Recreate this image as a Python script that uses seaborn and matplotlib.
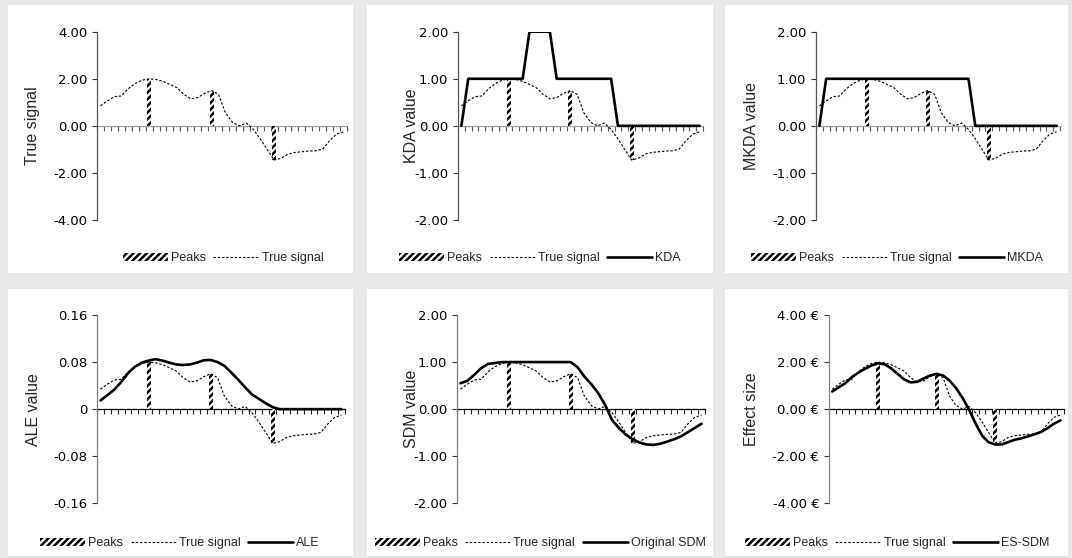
import numpy as np
import matplotlib
matplotlib.use("Agg")
import matplotlib.pyplot as plt
import seaborn as sns
from matplotlib.patches import Patch, Rectangle
from matplotlib.lines import Line2D

# ---------------- data ----------------
n_categories = 36
category_index = np.arange(n_categories)

true_signal = [0.85, 1.06, 1.24, 1.27, 1.58, 1.80, 1.94, 2.00, 1.97, 1.89,
               1.76, 1.62, 1.34, 1.15, 1.20, 1.38, 1.50, 1.34, 0.55, 0.15,
               0.00, 0.12, -0.15, -0.55, -1.00, -1.45, -1.38, -1.20, -1.13, -1.10,
               -1.07, -1.06, -0.99, -0.63, -0.35, -0.25]

kda_value = [0, 1, 1, 1, 1, 1, 1, 1, 1, 1,
             2, 2, 2, 2, 1, 1, 1, 1, 1, 1,
             1, 1, 1, 0, 0, 0, 0, 0, 0, 0,
             0, 0, 0, 0, 0, 0]

mkda_value = [0, 1, 1, 1, 1, 1, 1, 1, 1, 1,
              1, 1, 1, 1, 1, 1, 1, 1, 1, 1,
              1, 1, 1, 0, 0, 0, 0, 0, 0, 0,
              0, 0, 0, 0, 0, 0]

ale_value = [0.0147, 0.0237, 0.033, 0.046, 0.061, 0.072, 0.079, 0.0825, 0.085, 0.0825,
             0.079, 0.076, 0.075, 0.076, 0.079, 0.083, 0.0836, 0.080, 0.0735, 0.062,
             0.050, 0.037, 0.025, 0.0175, 0.010, 0.0034, 0, 0, 0, 0,
             0, 0, 0, 0, 0, 0]

sdm_value = [0.55, 0.60, 0.73, 0.87, 0.96, 0.98, 1.0, 1.0, 1.0, 1.0,
             1.0, 1.0, 1.0, 1.0, 1.0, 1.0, 1.0, 0.89, 0.69, 0.53,
             0.34, 0.09, -0.23, -0.40, -0.54, -0.64, -0.71, -0.75, -0.76, -0.735,
             -0.69, -0.64, -0.58, -0.49, -0.40, -0.31]

es_sdm_value = [0.75, 0.93, 1.10, 1.36, 1.55, 1.71, 1.85, 1.95, 1.91, 1.74,
                1.50, 1.27, 1.14, 1.16, 1.30, 1.43, 1.50, 1.43, 1.21, 0.89,
                0.47, -0.03, -0.62, -1.13, -1.41, -1.50, -1.50, -1.40, -1.30, -1.24,
                -1.16, -1.07, -0.97, -0.81, -0.62, -0.48]

peak_index = [7, 16, 25]
peak_height = [2.0, 1.5, -1.45]

# scale of the true signal (and peaks) in each panel's units
signal_scale = [1.0, 0.5, 0.5, 0.04, 0.5, 1.0]

panel_ylabels = ["True signal", "KDA value", "MKDA value", "ALE value", "SDM value", "Effect size"]
method_names = [None, "KDA", "MKDA", "ALE", "Original SDM", "ES-SDM"]
method_values = [None, kda_value, mkda_value, ale_value, sdm_value, es_sdm_value]

tick_values = [[-4, -2, 0, 2, 4], [-2, -1, 0, 1, 2], [-2, -1, 0, 1, 2],
               [-0.16, -0.08, 0, 0.08, 0.16], [-2, -1, 0, 1, 2], [-4, -2, 0, 2, 4]]
tick_labels = [["-4.00", "-2.00", "0.00", "2.00", "4.00"],
               ["-2.00", "-1.00", "0.00", "1.00", "2.00"],
               ["-2.00", "-1.00", "0.00", "1.00", "2.00"],
               ["-0.16", "-0.08", "0", "0.08", "0.16"],
               ["-2.00", "-1.00", "0.00", "1.00", "2.00"],
               ["-4.00 €", "-2.00 €", "0.00 €", "2.00 €", "4.00 €"]]

# ---------------- layout (pixels) ----------------
W, H = 1072, 558
panel_box = [(8, 5, 353, 273), (367, 5, 713, 273), (725, 5, 1068, 273),
             (8, 289, 353, 556), (367, 289, 713, 556), (725, 289, 1068, 556)]
axes_box = [(97, 31.7, 347, 220), (458, 31.7, 703, 220), (816, 31.7, 1060, 220),
            (97, 315, 345, 503.3), (457, 315, 705, 503.3), (829, 315, 1063.7, 503.3)]
ylabel_x = [33, 412, 752, 33, 411, 752]
legend_center = [(223, 258), (540, 258), (897, 258), (180, 543), (540, 543), (897, 543)]

sns.set_theme(style="white")
plt.rcParams["font.family"] = ["Liberation Sans", "DejaVu Sans"]
plt.rcParams["hatch.linewidth"] = 1.8

fig = plt.figure(figsize=(W / 100, H / 100), dpi=100)
fig.patch.set_facecolor("#e8e8e8")

for (x0, y0, x1, y1) in panel_box:
    fig.patches.append(Rectangle((x0 / W, 1 - y1 / H), (x1 - x0) / W, (y1 - y0) / H,
                                 transform=fig.transFigure, facecolor="white",
                                 edgecolor="none", zorder=-10))

x_pos = category_index + 0.5
dotted = (0, (2.2, 1.6))

for k in range(6):
    x0, y0, x1, y1 = axes_box[k]
    ax = fig.add_axes([x0 / W, 1 - y1 / H, (x1 - x0) / W, (y1 - y0) / H])
    ax.set_zorder(1)
    ax.set_facecolor("none")
    s = signal_scale[k]

    # peaks
    ax.bar(x_pos[peak_index], [p * s for p in peak_height], width=0.6,
           facecolor="white", edgecolor="black", hatch="/////", linewidth=0, zorder=3)
    # true signal
    sns.lineplot(x=x_pos, y=[v * s for v in true_signal], ax=ax, color="black",
                 lw=0.8, linestyle=dotted, zorder=4)
    # method
    if method_values[k] is not None:
        sns.lineplot(x=x_pos, y=method_values[k], ax=ax, color="black", lw=1.9,
                     zorder=5)

    ax.set_xlim(0, n_categories)
    ax.set_ylim(tick_values[k][0], tick_values[k][-1])
    ax.set_yticks(tick_values[k])
    ax.set_yticklabels(tick_labels[k], fontsize=9.5, family="DejaVu Sans")
    ax.set_xticks(np.arange(n_categories + 1))
    ax.set_xticklabels([])

    for sp in ["top", "right"]:
        ax.spines[sp].set_visible(False)
    ax.spines["bottom"].set_position(("data", 0))
    top_row = k < 3
    ax.spines["bottom"].set_color("#a0a0a0" if top_row else "black")
    ax.spines["bottom"].set_linewidth(0.9)
    ax.spines["left"].set_color("#555555" if top_row else "#808080")
    ax.spines["left"].set_linewidth(0.9)
    ax.spines["bottom"].set_zorder(2)

    ax.tick_params(axis="y", direction="out", length=3.5, width=0.8, colors="#333333",
                   labelcolor="black", pad=3.5, left=True)
    ax.tick_params(axis="x", direction="out", length=3.5, width=0.8,
                   colors="#555555" if top_row else "#222222", bottom=True)

    ax.set_ylabel(panel_ylabels[k], fontsize=11.5, va="center")
    ax.yaxis.set_label_coords((ylabel_x[k] - x0) / (x1 - x0), 0.5)
    ax.set_xlabel("")

    handles = [Patch(facecolor="white", edgecolor="black", hatch="/////", linewidth=0, label="Peaks"),
               Line2D([], [], color="black", lw=0.8, linestyle=dotted, label="True signal")]
    if method_names[k] is not None:
        handles.append(Line2D([], [], color="black", lw=1.9, label=method_names[k]))
    cx, cy = legend_center[k]
    leg = ax.legend(handles=handles, loc="center", bbox_to_anchor=(cx / W, 1 - cy / H),
                    bbox_transform=fig.transFigure, ncol=len(handles), frameon=False,
                    fontsize=9, handlelength=3.6, handleheight=0.6, handletextpad=0.25,
                    columnspacing=0.6, borderaxespad=0, borderpad=0)

fig.savefig("out.png", dpi=100, facecolor=fig.get_facecolor())
